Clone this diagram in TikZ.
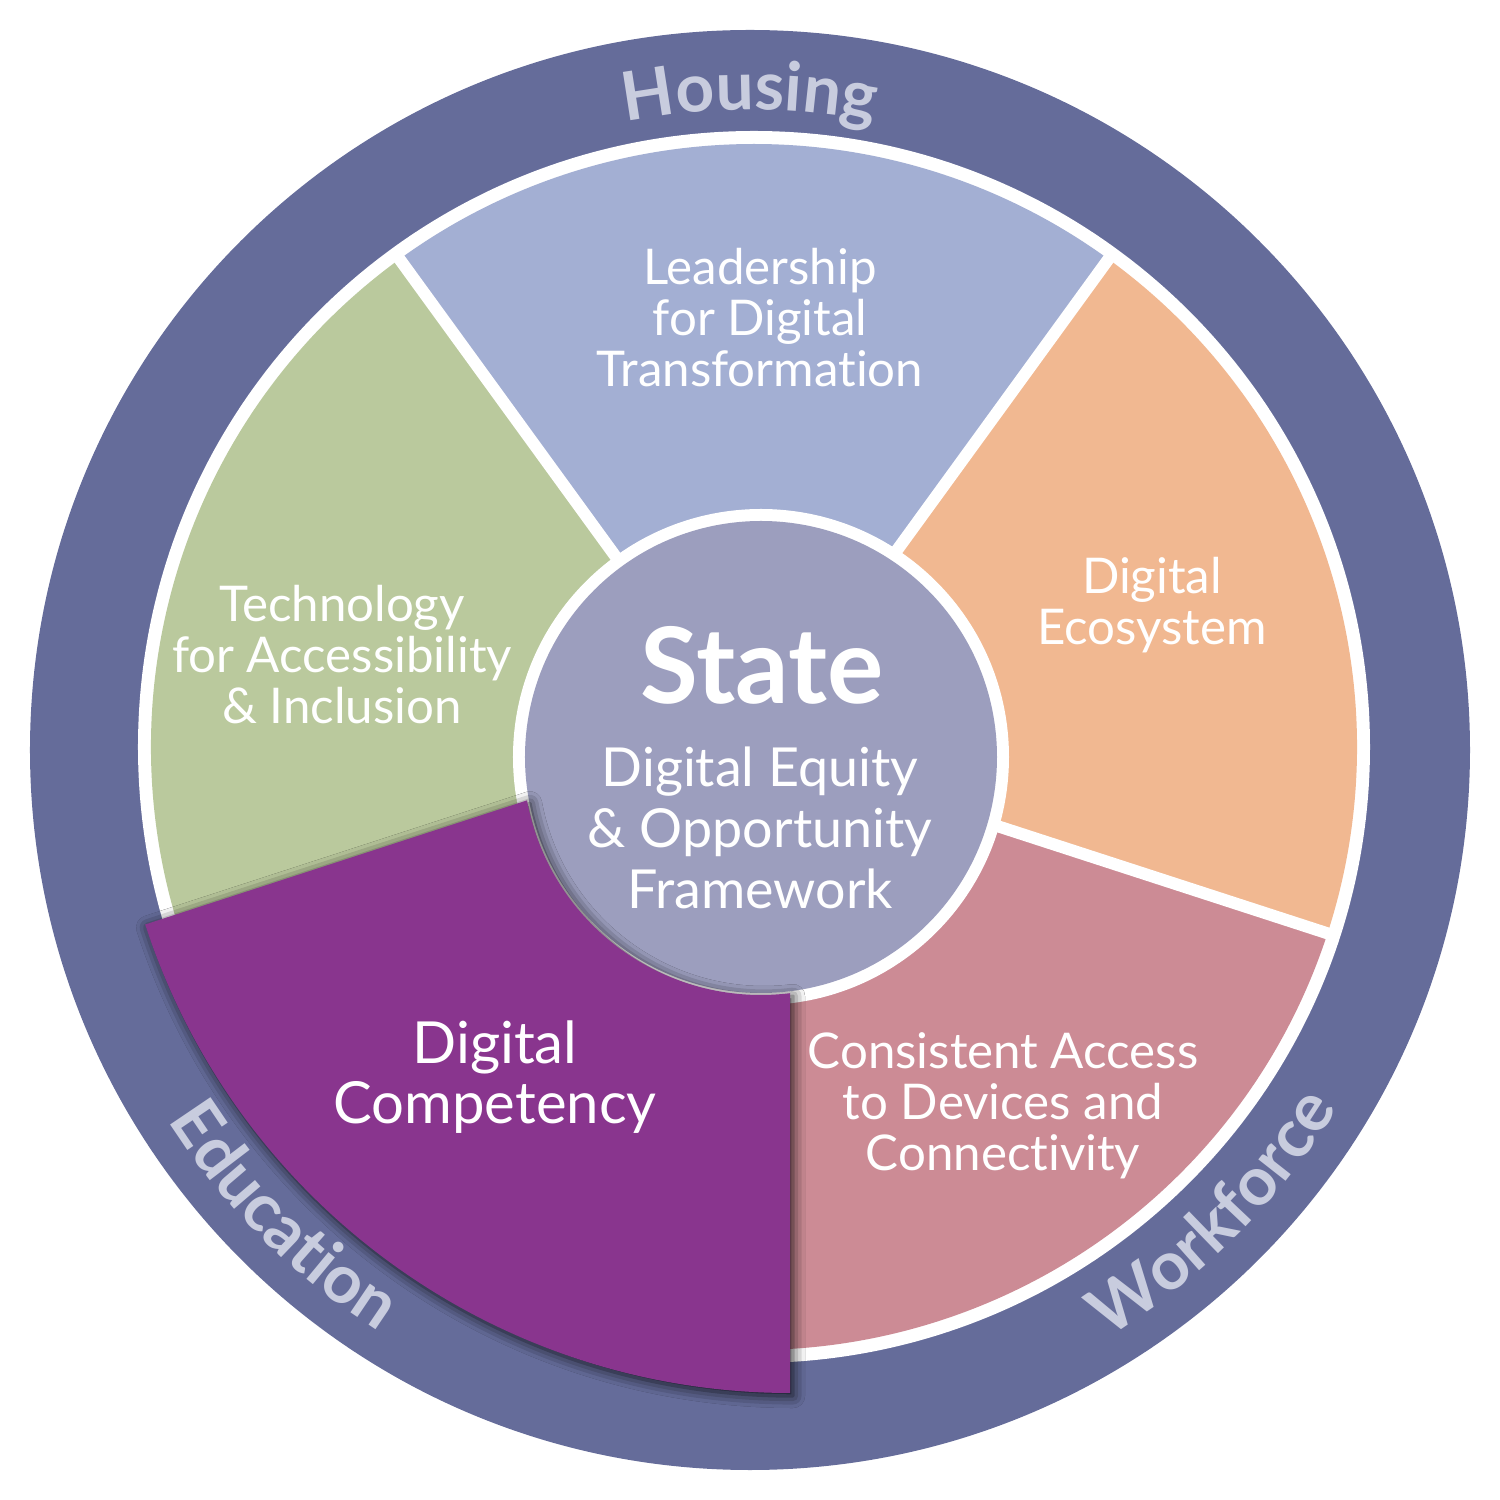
\documentclass[tikz,border=0pt]{standalone}
\usepackage{fontspec}
\setmainfont{Lato}[Ligatures=NoCommon]
\usepackage{tikz}
\usetikzlibrary{decorations.text, shadows.blur}
\definecolor{ringblue}{RGB}{101,108,154}
\definecolor{ringtext}{RGB}{200,204,222}
\definecolor{leadblue}{RGB}{163,175,211}
\definecolor{ecoorange}{RGB}{241,184,145}
\definecolor{accesspink}{RGB}{204,139,149}
\definecolor{competpurple}{RGB}{137,53,142}
\definecolor{techgreen}{RGB}{186,201,157}
\definecolor{statelav}{RGB}{156,158,190}
\newcommand{\ringfont}{\fontsize{19.2}{20}\selectfont\bfseries}

\begin{document}
\begin{tikzpicture}[
    x=0.01cm, y=0.01cm,
    sectortext/.style={text=white, align=center, font=\fontsize{14}{14.5}\selectfont},
    centretext/.style={text=white, align=center, font=\fontsize{15.3}{17.4}\selectfont},
    ringword/.style={decorate, decoration={text along path, text={|\ringfont|#1}, text color=ringtext, text align=center}},
    gap/.style={white, line width=0.12cm}
  ]
  \useasboundingbox (-750,-750) rectangle (750,750);
  \coordinate (O) at (0,0);
  \coordinate (S) at (4,3);
  \coordinate (C) at (11,-7);

  % outer ring
  \fill[ringblue] (O) circle[radius=720];
  \fill[white] (S) circle[radius=616];

  % sectors
  \foreach \from/\col in {54/leadblue, 126/techgreen, 270/accesspink, 342/ecoorange}
    \fill[\col] (S) -- ++(\from:603) arc[start angle=\from, delta angle=72, radius=603] -- cycle;
  \foreach \a in {54,126,198,270,342}
    \draw[gap] (S) -- ++(\a:610);

  % centre
  \fill[white] (C) circle[radius=248];
  \fill[statelav] (C) circle[radius=236];

  % highlighted sector
  \fill[competpurple, blur shadow={shadow xshift=0.03cm, shadow yshift=-0.03cm, shadow blur radius=0.12cm, shadow opacity=85}]
    (-223,-50.4) -- (-604.8,-174.5) arc[start angle=198, end angle=270, radius=678]
    -- (40,-243.2) arc[start angle=277, end angle=190.5, radius=238] -- cycle;

  % ring words
  \path[ringword=Housing] (120:640) arc[start angle=120, end angle=60, radius=640];
  \path[ringword=Education] (195:690) arc[start angle=195, end angle=255, radius=690];
  \path[ringword=Workforce] (285:688) arc[start angle=285, end angle=345, radius=688];

  % labels
  \node[sectortext] (leadership) at (10,432) {Leadership\\for Digital\\Transformation};
  \node[sectortext] (ecosystem) at (402,145) {Digital\\Ecosystem};
  \node[sectortext] (technology) at (-408,95) {Technology\\for Accessibility\\\& Inclusion};
  \node[sectortext] (access) at (253,-356) {Consistent Access\\to Devices and\\Connectivity};
  \node[centretext, font=\fontsize{16.5}{17.2}\selectfont] (competency) at (-255,-327) {Digital\\Competency};
  \node[text=white, font=\fontsize{30}{31}\selectfont\bfseries] (state) at (12,85) {State};
  \node[centretext] (framework) at (10,-78) {Digital Equity\\\& Opportunity\\Framework};
\end{tikzpicture}
\end{document}
